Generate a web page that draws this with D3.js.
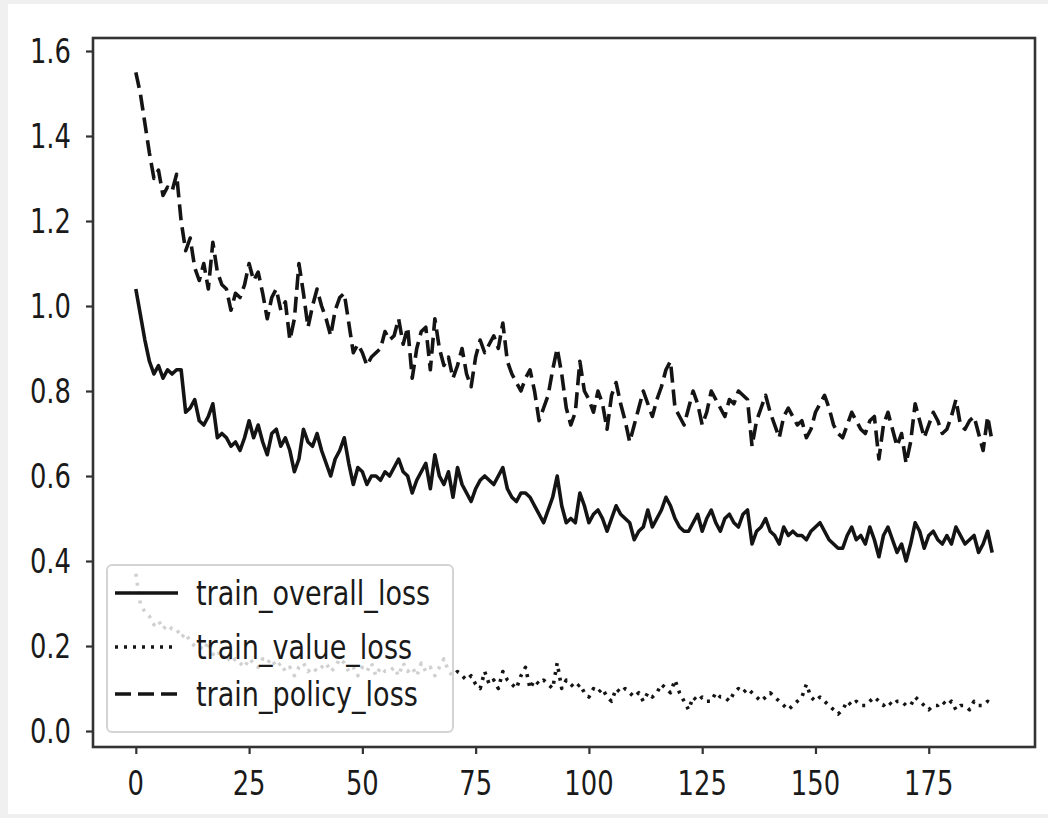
<!DOCTYPE html>
<html>
<head>
<meta charset="utf-8">
<script src="https://cdn.jsdelivr.net/npm/d3@7"></script>
<style>
  html, body { margin: 0; padding: 0; background: #f0f0f0; }
  svg { display: block; }
  text { font-family: "DejaVu Sans", sans-serif; fill: #1a1a1a; }
</style>
</head>
<body>
<div id="chart"></div>
<script>
'use strict';

// values, one per epoch (0..189)
var overallLoss = [
  1.04, 0.98, 0.92, 0.87, 0.84, 0.86, 0.83, 0.85, 0.84, 0.85,
  0.85, 0.75, 0.76, 0.78, 0.73, 0.72, 0.74, 0.77, 0.69, 0.70,
  0.69, 0.67, 0.68, 0.66, 0.69, 0.73, 0.69, 0.72, 0.68, 0.65,
  0.70, 0.71, 0.67, 0.69, 0.66, 0.61, 0.64, 0.71, 0.68, 0.67,
  0.70, 0.66, 0.63, 0.60, 0.64, 0.66, 0.69, 0.63, 0.58, 0.62,
  0.61, 0.58, 0.60, 0.60, 0.59, 0.61, 0.60, 0.62, 0.64, 0.61,
  0.60, 0.56, 0.59, 0.61, 0.63, 0.57, 0.65, 0.60, 0.58, 0.61,
  0.55, 0.62, 0.58, 0.56, 0.54, 0.57, 0.59, 0.60, 0.59, 0.58,
  0.60, 0.62, 0.57, 0.55, 0.54, 0.56, 0.56, 0.55, 0.53, 0.51,
  0.49, 0.52, 0.55, 0.60, 0.53, 0.49, 0.50, 0.49, 0.56, 0.53,
  0.49, 0.51, 0.52, 0.50, 0.47, 0.50, 0.53, 0.51, 0.50, 0.49,
  0.45, 0.47, 0.48, 0.52, 0.48, 0.50, 0.52, 0.55, 0.53, 0.50,
  0.48, 0.47, 0.47, 0.49, 0.51, 0.47, 0.50, 0.52, 0.49, 0.47,
  0.50, 0.51, 0.49, 0.48, 0.51, 0.52, 0.44, 0.47, 0.48, 0.50,
  0.47, 0.46, 0.44, 0.48, 0.46, 0.47, 0.46, 0.46, 0.45, 0.47,
  0.48, 0.49, 0.47, 0.45, 0.44, 0.43, 0.43, 0.46, 0.48, 0.45,
  0.46, 0.44, 0.48, 0.45, 0.41, 0.46, 0.48, 0.45, 0.42, 0.44,
  0.40, 0.44, 0.49, 0.47, 0.43, 0.46, 0.47, 0.45, 0.44, 0.46,
  0.44, 0.48, 0.46, 0.44, 0.45, 0.46, 0.42, 0.44, 0.47, 0.42
];

var valueLoss = [
  0.37, 0.30, 0.28, 0.27, 0.25, 0.26, 0.24, 0.25, 0.24, 0.24,
  0.22, 0.23, 0.21, 0.20, 0.20, 0.19, 0.21, 0.18, 0.19, 0.17,
  0.18, 0.16, 0.17, 0.16, 0.15, 0.17, 0.16, 0.15, 0.17, 0.16,
  0.17, 0.15, 0.16, 0.14, 0.15, 0.13, 0.15, 0.16, 0.14, 0.15,
  0.14, 0.15, 0.16, 0.14, 0.15, 0.17, 0.16, 0.14, 0.15, 0.13,
  0.15, 0.14, 0.16, 0.13, 0.15, 0.14, 0.14, 0.15, 0.13, 0.16,
  0.14, 0.15, 0.13, 0.16, 0.14, 0.15, 0.13, 0.15, 0.17, 0.14,
  0.13, 0.14, 0.13, 0.12, 0.13, 0.11, 0.10, 0.14, 0.11, 0.12,
  0.10, 0.14, 0.12, 0.11, 0.10, 0.13, 0.15, 0.10, 0.12, 0.11,
  0.12, 0.11, 0.10, 0.16, 0.10, 0.12, 0.11, 0.10, 0.11, 0.09,
  0.08, 0.10, 0.09, 0.10, 0.08, 0.07, 0.10, 0.09, 0.10, 0.09,
  0.08, 0.09, 0.07, 0.09, 0.08, 0.09, 0.11, 0.10, 0.09, 0.12,
  0.09, 0.07, 0.05, 0.08, 0.07, 0.08, 0.07, 0.07, 0.09, 0.08,
  0.08, 0.07, 0.09, 0.10, 0.09, 0.10, 0.09, 0.08, 0.07, 0.08,
  0.09, 0.08, 0.07, 0.06, 0.05, 0.06, 0.07, 0.08, 0.11, 0.08,
  0.07, 0.08, 0.07, 0.06, 0.05, 0.04, 0.05, 0.07, 0.06, 0.07,
  0.06, 0.06, 0.07, 0.08, 0.07, 0.06, 0.07, 0.06, 0.07, 0.07,
  0.06, 0.06, 0.08, 0.07, 0.06, 0.05, 0.06, 0.06, 0.07, 0.06,
  0.07, 0.05, 0.06, 0.06, 0.05, 0.07, 0.06, 0.06, 0.07, 0.06
];

var policyLoss = [
  1.55, 1.50, 1.43, 1.36, 1.30, 1.32, 1.26, 1.28, 1.27, 1.31,
  1.20, 1.13, 1.16, 1.09, 1.06, 1.10, 1.04, 1.15, 1.08, 1.05,
  1.04, 0.99, 1.03, 1.02, 1.05, 1.10, 1.06, 1.08, 1.03, 0.97,
  1.02, 1.04, 0.99, 1.01, 0.92, 0.97, 1.10, 1.03, 0.95, 1.00,
  1.04, 1.00, 0.97, 0.93, 0.99, 1.02, 1.03, 0.96, 0.89, 0.91,
  0.89, 0.86, 0.88, 0.89, 0.90, 0.94, 0.92, 0.93, 0.97, 0.91,
  0.95, 0.83, 0.90, 0.94, 0.95, 0.85, 0.97, 0.90, 0.86, 0.88,
  0.83, 0.86, 0.90, 0.84, 0.81, 0.88, 0.92, 0.89, 0.91, 0.93,
  0.90, 0.96, 0.87, 0.84, 0.82, 0.80, 0.83, 0.85, 0.80, 0.73,
  0.76, 0.79, 0.85, 0.90, 0.84, 0.76, 0.72, 0.75, 0.87, 0.80,
  0.78, 0.75, 0.80, 0.77, 0.71, 0.79, 0.82, 0.77, 0.73, 0.68,
  0.72, 0.76, 0.80, 0.77, 0.74, 0.78, 0.81, 0.85, 0.87, 0.76,
  0.74, 0.72, 0.76, 0.80, 0.77, 0.72, 0.75, 0.80, 0.78, 0.76,
  0.74, 0.78, 0.77, 0.80, 0.79, 0.78, 0.67, 0.73, 0.76, 0.79,
  0.75, 0.72, 0.69, 0.74, 0.76, 0.74, 0.72, 0.73, 0.69, 0.71,
  0.75, 0.77, 0.79, 0.76, 0.72, 0.70, 0.69, 0.72, 0.75, 0.73,
  0.71, 0.70, 0.73, 0.74, 0.64, 0.72, 0.75, 0.71, 0.67, 0.70,
  0.63, 0.68, 0.77, 0.73, 0.69, 0.72, 0.75, 0.73, 0.70, 0.71,
  0.74, 0.78, 0.72, 0.71, 0.73, 0.74, 0.70, 0.66, 0.74, 0.68
];

var xTicks = [0, 25, 50, 75, 100, 125, 150, 175]
  , yTicks = [0.0, 0.2, 0.4, 0.6, 0.8, 1.0, 1.2, 1.4, 1.6];

var seriesNames = ['train_overall_loss', 'train_value_loss', 'train_policy_loss'];


var W = 1048, H = 818
  , frame = { left: 93, top: 38, right: 1035, bottom: 747 }
  , ink = '#141414'
  , axisInk = '#333'
  , textScale = 0.76;   // the reference glyphs are squeezed sideways

var svg = d3.select('#chart').append('svg')
  .attr('width', W)
  .attr('height', H);

// white figure patch on the grey page
svg.append('rect')
  .attr('x', 8).attr('y', 4)
  .attr('width', W - 8).attr('height', H - 8)
  .attr('fill', '#fff');

var x = d3.scaleLinear()
  .domain([-9.45, 198.45])
  .range([frame.left, frame.right]);

var y = d3.scaleLinear()
  .domain([-0.0376, 1.6306])
  .range([frame.bottom, frame.top]);

var series = [
  { name: seriesNames[0], values: overallLoss, dash: null },
  { name: seriesNames[1], values: valueLoss,   dash: '3,6' },
  { name: seriesNames[2], values: policyLoss,  dash: '16,7' }
];

var line = d3.line()
  .x(function(d, i){ return x(i); })
  .y(function(d){ return y(d); });

var plot = svg.append('g').attr('class', 'plot');

plot.selectAll('path.series')
    .data(series)
  .enter().append('path')
    .attr('class', 'series')
    .attr('d', function(s){ return line(s.values); })
    .attr('fill', 'none')
    .attr('stroke', ink)
    .attr('stroke-width', 3.6)
    .attr('stroke-linejoin', 'round')
    .attr('stroke-dasharray', function(s){ return s.dash; });

// axes: ticks only, labels drawn separately so they can be squeezed
var xAxis = d3.axisBottom(x).tickValues(xTicks).tickSize(7).tickFormat('');
var yAxis = d3.axisLeft(y).tickValues(yTicks).tickSize(7).tickFormat('');

svg.append('g')
  .attr('transform', 'translate(0,' + frame.bottom + ')')
  .call(xAxis)
  .call(styleAxis);

svg.append('g')
  .attr('transform', 'translate(' + frame.left + ',0)')
  .call(yAxis)
  .call(styleAxis);

function styleAxis(g){
  g.select('.domain').remove();
  g.selectAll('.tick line').attr('stroke', axisInk).attr('stroke-width', 2.2);
}

svg.append('g').selectAll('text')
    .data(xTicks)
  .enter().append('text')
    .attr('transform', function(d){ return 'translate(' + x(d) + ',795) scale(' + textScale + ',1)'; })
    .attr('text-anchor', 'middle')
    .attr('font-size', 34)
    .text(function(d){ return d; });

svg.append('g').selectAll('text')
    .data(yTicks)
  .enter().append('text')
    .attr('transform', function(d){ return 'translate(71,' + (y(d) + 12) + ') scale(' + textScale + ',1)'; })
    .attr('text-anchor', 'end')
    .attr('font-size', 34)
    .text(function(d){ return d3.format('.1f')(d); });

// frame
svg.append('rect')
  .attr('x', frame.left).attr('y', frame.top)
  .attr('width', frame.right - frame.left)
  .attr('height', frame.bottom - frame.top)
  .attr('fill', 'none')
  .attr('stroke', axisInk)
  .attr('stroke-width', 2.6);

// legend
var legend = svg.append('g').attr('class', 'legend');

legend.append('rect')
  .attr('x', 107).attr('y', 565)
  .attr('width', 346).attr('height', 167)
  .attr('rx', 5)
  .attr('fill', '#fff')
  .attr('fill-opacity', 0.8)
  .attr('stroke', '#d4d4d4')
  .attr('stroke-width', 2);

var rows = legend.selectAll('g.row')
    .data(series)
  .enter().append('g')
    .attr('class', 'row')
    .attr('transform', function(s, i){ return 'translate(0,' + [593, 647, 694][i] + ')'; });

rows.append('line')
  .attr('x1', 115).attr('x2', 178)
  .attr('stroke', ink)
  .attr('stroke-width', 3.6)
  .attr('stroke-dasharray', function(s){ return s.dash; });

rows.append('text')
  .attr('transform', 'translate(196,12) scale(0.82,1)')
  .attr('font-size', 33)
  .text(function(s){ return s.name; });
</script>
</body>
</html>
